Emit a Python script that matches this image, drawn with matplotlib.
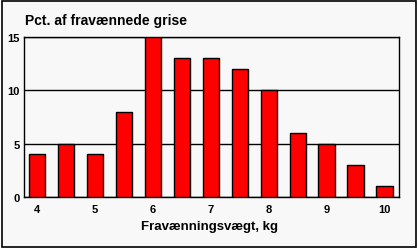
import matplotlib
matplotlib.use("Agg")
import matplotlib.pyplot as plt
from matplotlib.patches import Rectangle

weights = [4, 4.5, 5, 5.5, 6, 6.5, 7, 7.5, 8, 8.5, 9, 9.5, 10]
pct = [4, 5, 4, 8, 15, 13, 13, 12, 10, 6, 5, 3, 1]
tick_labels = ["4", "", "5", "", "6", "", "7", "", "8", "", "9", "", "10"]

W, H = 418, 251
fig = plt.figure(figsize=(W / 100, H / 100), dpi=100)
fig.patch.set_facecolor("white")
fig.patches.append(Rectangle((1.5 / W, 3.5 / H), (W - 4) / W, (H - 5) / H,
                             transform=fig.transFigure, facecolor="#f8f8f8",
                             edgecolor="black", linewidth=1.2, zorder=-1))

ax = fig.add_axes([24 / W, (H - 198) / H, (399 - 24) / W, (198 - 38) / H])
ax.set_facecolor("#f8f8f8")
pos = list(range(len(weights)))
ax.bar(pos, pct, width=0.56, color="#ff0000", edgecolor="black", linewidth=1, zorder=3)
ax.set_xlim(-0.45, 12.5)
ax.set_ylim(0, 15)
ax.set_yticks([0, 5, 10, 15])
ax.yaxis.grid(True, color="black", linewidth=1, zorder=0)
ax.set_xticks(pos)
ax.set_xticklabels(tick_labels)
ax.tick_params(length=0, labelsize=8, pad=5)
ax.tick_params(axis="y", pad=3)
for lbl in ax.get_xticklabels() + ax.get_yticklabels():
    lbl.set_fontweight("bold")
    lbl.set_family("Liberation Sans")
for s in ax.spines.values():
    s.set_linewidth(1)

fig.text(25 / W, 1 - 24.5 / H, "Pct. af fravænnede grise", fontsize=10,
         fontweight="bold", family="Liberation Sans", va="baseline", ha="left")
fig.text(210 / W, 1 - 230 / H, "Fravænningsvægt, kg", fontsize=9.5,
         fontweight="bold", family="Liberation Sans", va="baseline", ha="center")

fig.savefig("out.png", dpi=100)
